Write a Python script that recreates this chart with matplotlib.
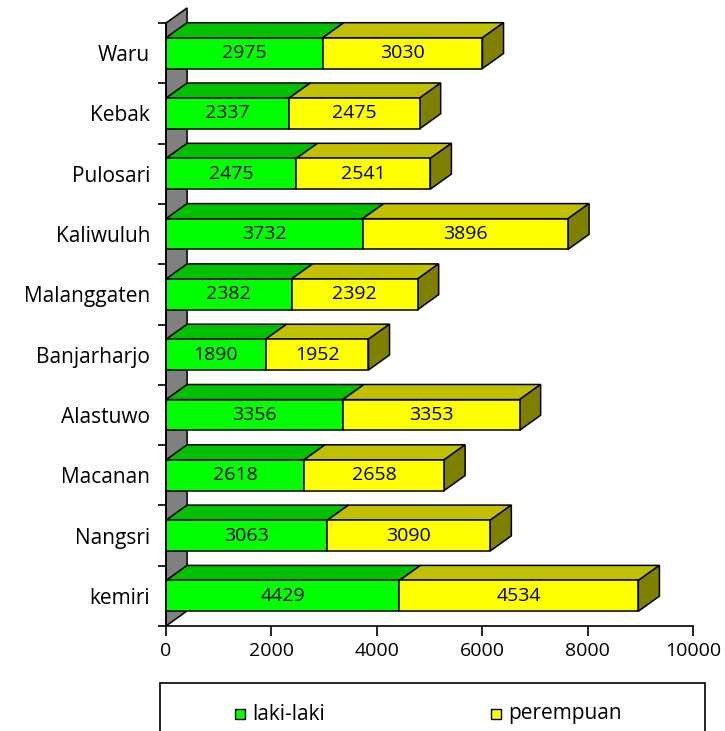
import matplotlib
matplotlib.use("Agg")
import matplotlib.pyplot as plt
from matplotlib.patches import Polygon, Rectangle
import numpy as np

plt.rcParams['font.family'] = ['Open Sans', 'DejaVu Sans']

categories = ['kemiri', 'Nangsri', 'Macanan', 'Alastuwo', 'Banjarharjo',
              'Malanggaten', 'Kaliwuluh', 'Pulosari', 'Kebak', 'Waru']
laki = [4429, 3063, 2618, 3356, 1890, 2382, 3732, 2475, 2337, 2975]
perempuan = [4534, 3090, 2658, 3353, 1952, 2392, 3896, 2541, 2475, 3030]
series_names = ['laki-laki', 'perempuan']
xticks = [0, 2000, 4000, 6000, 8000, 10000]

W, H = 725, 731
fig = plt.figure(figsize=(W / 100, H / 100), dpi=100)
x0px, x1px, ytop, ybot = 166, 693, 23, 626
ax = fig.add_axes([x0px / W, (H - ybot) / H, (x1px - x0px) / W, (ybot - ytop) / H])
ax.set_xlim(0, 10000)
ax.set_ylim(-0.5, len(categories) - 0.5)

DX = 400      # depth offset in value units
DY = 0.25     # depth offset in category units
h = 0.51

front = ['#00FF00', '#FFFF00']
topc = ['#00C000', '#C0C000']
sidec = ['#008000', '#808000']

# left wall
n = len(categories)
wall = Polygon([(0, -0.5), (DX, -0.5 + DY), (DX, n - 0.5 + DY), (0, n - 0.5)],
               closed=True, facecolor='#808080', edgecolor='black', lw=1.1,
               zorder=1, clip_on=False)
ax.add_patch(wall)

y = np.arange(n)
for i in range(n):
    segs = [(0, laki[i]), (laki[i], laki[i] + perempuan[i])]
    yt = y[i] + h / 2
    yb = y[i] - h / 2
    for s, (a, b) in enumerate(segs):
        top = Polygon([(a, yt), (b, yt), (b + DX, yt + DY), (a + DX, yt + DY)],
                      closed=True, facecolor=topc[s], edgecolor='black', lw=1.1,
                      zorder=2, clip_on=False)
        ax.add_patch(top)
    b = segs[-1][1]
    side = Polygon([(b, yb), (b, yt), (b + DX, yt + DY), (b + DX, yb + DY)],
                   closed=True, facecolor=sidec[1], edgecolor='black', lw=1.1,
                   zorder=2, clip_on=False)
    ax.add_patch(side)

ax.barh(y, laki, height=h, color=front[0], edgecolor='black', lw=1.1, zorder=3)
ax.barh(y, perempuan, left=laki, height=h, color=front[1], edgecolor='black', lw=1.1, zorder=3)

for i in range(n):
    ax.text(laki[i] / 2, y[i], str(laki[i]), ha='center', va='center',
            fontsize=14, zorder=4)
    ax.text(laki[i] + perempuan[i] / 2, y[i], str(perempuan[i]), ha='center',
            va='center', fontsize=14, zorder=4)

# axes styling
for sp in ['top', 'right']:
    ax.spines[sp].set_visible(False)
ax.spines['left'].set_linewidth(1.2)
ax.spines['bottom'].set_linewidth(1.2)
ax.spines['left'].set_zorder(5)

ax.set_yticks(np.arange(-0.5, n, 1))
ax.set_yticklabels([])
ax.set_yticks(y, minor=True)
ax.set_yticklabels(categories, minor=True, fontsize=15)
ax.tick_params(axis='y', which='major', direction='out', length=5.8, width=1.2)
ax.tick_params(axis='y', which='minor', length=0, pad=11.5)

ax.set_xticks(xticks)
ax.set_xticklabels([str(t) for t in xticks], fontsize=14)
ax.tick_params(axis='x', direction='out', length=7.2, width=1.2, pad=4)

# legend box (extends past bottom edge)
fig.patches.append(Rectangle((160 / W, -0.05), (705 - 160) / W, (H - 683) / H + 0.05,
                             transform=fig.transFigure, fill=False,
                             edgecolor='black', lw=1.2))
leg_x = [235, 491]
for s in range(2):
    fig.patches.append(Rectangle((leg_x[s] / W, (H - 719) / H), 10 / W, 10 / H,
                                 transform=fig.transFigure, facecolor=front[s],
                                 edgecolor='black', lw=1))
    fig.text((leg_x[s] + 17) / W, (H - 714) / H, series_names[s], fontsize=15,
             ha='left', va='center')

fig.savefig('out.png', dpi=100)
